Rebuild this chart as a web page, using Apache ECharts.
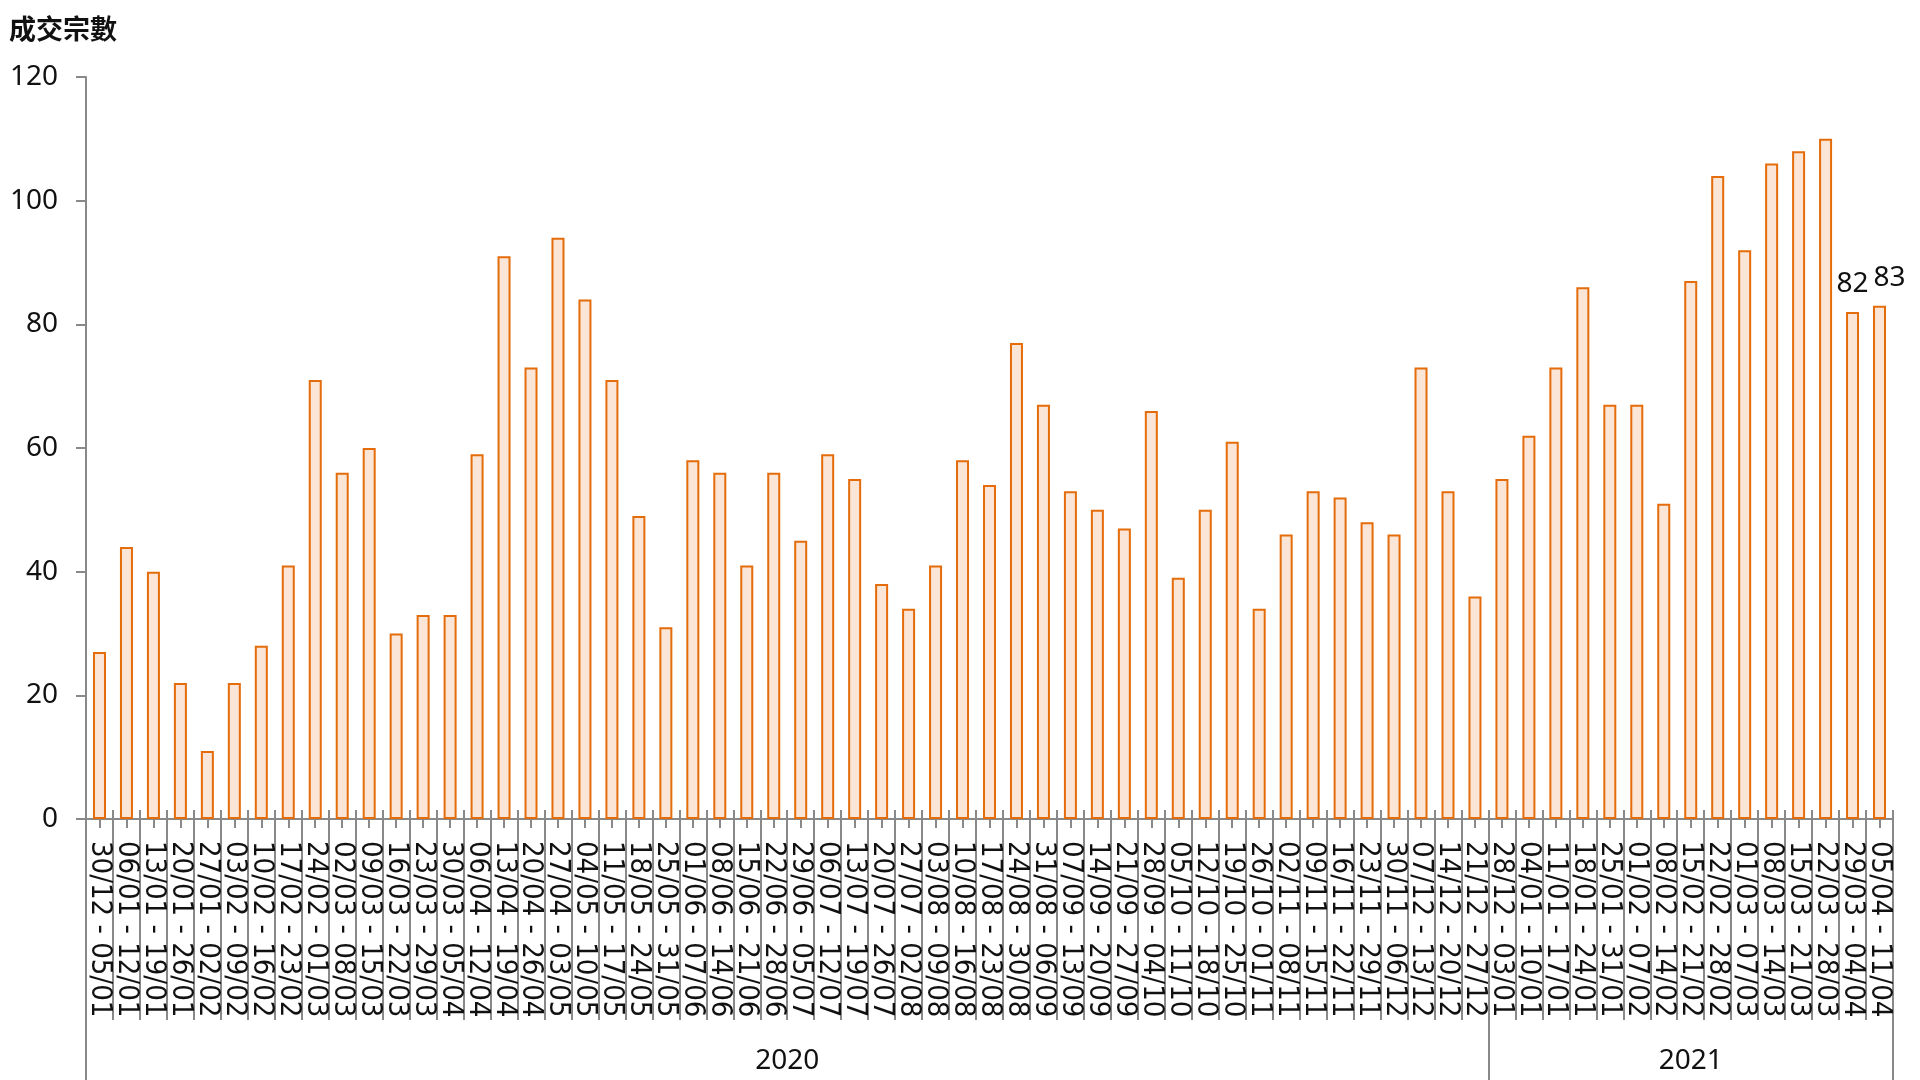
<!DOCTYPE html>
<html><head><meta charset="utf-8">
<script src="https://cdn.jsdelivr.net/npm/echarts@6/dist/echarts.min.js"></script>
<style>html,body{margin:0;padding:0;background:#fff}#c{width:1920px;height:1080px}</style>
</head><body><div id="c"></div>
<script>
const weeks = [
 '30/12 - 05/01','06/01 - 12/01','13/01 - 19/01','20/01 - 26/01','27/01 - 02/02','03/02 - 09/02','10/02 - 16/02','17/02 - 23/02','24/02 - 01/03','02/03 - 08/03',
 '09/03 - 15/03','16/03 - 22/03','23/03 - 29/03','30/03 - 05/04','06/04 - 12/04','13/04 - 19/04','20/04 - 26/04','27/04 - 03/05','04/05 - 10/05','11/05 - 17/05',
 '18/05 - 24/05','25/05 - 31/05','01/06 - 07/06','08/06 - 14/06','15/06 - 21/06','22/06 - 28/06','29/06 - 05/07','06/07 - 12/07','13/07 - 19/07','20/07 - 26/07',
 '27/07 - 02/08','03/08 - 09/08','10/08 - 16/08','17/08 - 23/08','24/08 - 30/08','31/08 - 06/09','07/09 - 13/09','14/09 - 20/09','21/09 - 27/09','28/09 - 04/10',
 '05/10 - 11/10','12/10 - 18/10','19/10 - 25/10','26/10 - 01/11','02/11 - 08/11','09/11 - 15/11','16/11 - 22/11','23/11 - 29/11','30/11 - 06/12','07/12 - 13/12',
 '14/12 - 20/12','21/12 - 27/12','28/12 - 03/01','04/01 - 10/01','11/01 - 17/01','18/01 - 24/01','25/01 - 31/01','01/02 - 07/02','08/02 - 14/02','15/02 - 21/02',
 '22/02 - 28/02','01/03 - 07/03','08/03 - 14/03','15/03 - 21/03','22/03 - 28/03','29/03 - 04/04','05/04 - 11/04'
];
const deals = [
 27,44,40,22,11,22,28,41,71,56,
 60,30,33,33,59,91,73,94,84,71,
 49,31,58,56,41,56,45,59,55,38,
 34,41,58,54,77,67,53,50,47,66,
 39,50,61,34,46,53,52,48,46,73,
 53,36,55,62,73,86,67,67,51,87,
 104,92,106,108,110,82,83
];
const yearLabels = ['2020', '2021'];
const weeksPerYear = [52, 15];
const yMin = 0, yMax = 120, yStep = 20;
const labeledLast = 2;
const yTitle = '成交宗數';

// half-week slot axis for the year grouping row
const yearAt = {};
const yearBoundaries = new Set([0]);
let s = 0;
yearLabels.forEach((y, i) => {
  yearAt[s * 2 + weeksPerYear[i]] = y;
  s += weeksPerYear[i];
  yearBoundaries.add(s * 2);
});
const halfSlots = [];
for (let i = 0; i <= weeks.length * 2; i++) halfSlots.push('h' + i);

const gray = '#898989';
const numFont = "'Noto Sans', 'Open Sans', sans-serif";

const barData = deals.map((v, i) => ({
  value: v,
  label: {
    show: i >= deals.length - labeledLast,
    offset: i === deals.length - 1 ? [10, 0] : [0, 0]
  }
}));

const chart = echarts.init(document.getElementById('c'), null, { renderer: 'canvas' });
chart.setOption({
  animation: false,
  backgroundColor: '#fff',
  title: {
    text: yTitle, left: 4, top: 10,
    textStyle: { fontFamily: "'Noto Sans CJK TC', sans-serif", fontSize: 27, fontWeight: 'bold', color: '#111' }
  },
  grid: { left: 86, right: 27, top: 77, bottom: 261, containLabel: false, outerBoundsMode: 'none' },
  xAxis: [
    {
      type: 'category', data: weeks, position: 'bottom', boundaryGap: true,
      axisLine: { show: true, lineStyle: { color: gray, width: 2 } },
      axisTick: { show: true, inside: true, length: 9, interval: 0, lineStyle: { color: gray, width: 2 } },
      axisLabel: { show: true, interval: 0, rotate: -90, margin: 22, fontSize: 29, color: '#111',
        fontFamily: "'DejaVu Sans Condensed', 'DejaVu Sans', sans-serif" }
    },
    {
      type: 'category', data: weeks, position: 'bottom', boundaryGap: true,
      axisLine: { show: false },
      axisTick: { show: true, inside: false, length: 201, interval: 0, lineStyle: { color: gray, width: 2 } },
      axisLabel: { show: false }
    },
    {
      type: 'category', data: weeks, position: 'bottom', boundaryGap: true,
      axisLine: { show: false },
      axisTick: { show: true, inside: false, alignWithLabel: true, length: 9, interval: 0, lineStyle: { color: gray, width: 2 } },
      axisLabel: { show: false }
    },
    {
      type: 'category', data: halfSlots, position: 'bottom', boundaryGap: false,
      axisLine: { show: false },
      axisTick: { show: true, inside: false, length: 270, interval: (idx) => yearBoundaries.has(idx), lineStyle: { color: gray, width: 2 } },
      axisLabel: { show: true, interval: (idx) => yearAt[idx] !== undefined, margin: 228, fontSize: 28, color: '#111',
        fontFamily: numFont, formatter: (v, idx) => yearAt[idx] || '' }
    }
  ],
  yAxis: {
    type: 'value', min: yMin, max: yMax, interval: yStep,
    axisLine: { show: true, lineStyle: { color: gray, width: 2 } },
    axisTick: { show: true, length: 10, lineStyle: { color: gray, width: 2 } },
    splitLine: { show: false },
    axisLabel: { margin: 28, fontSize: 28, color: '#111', fontFamily: numFont }
  },
  series: [{
    type: 'bar', xAxisIndex: 0, data: barData, barWidth: 13,
    itemStyle: { color: '#FBE5D6', borderColor: '#E46C0A', borderWidth: 2 },
    label: { position: 'top', distance: 14, fontSize: 28, color: '#111', fontFamily: numFont }
  }]
});
</script>
</body></html>
